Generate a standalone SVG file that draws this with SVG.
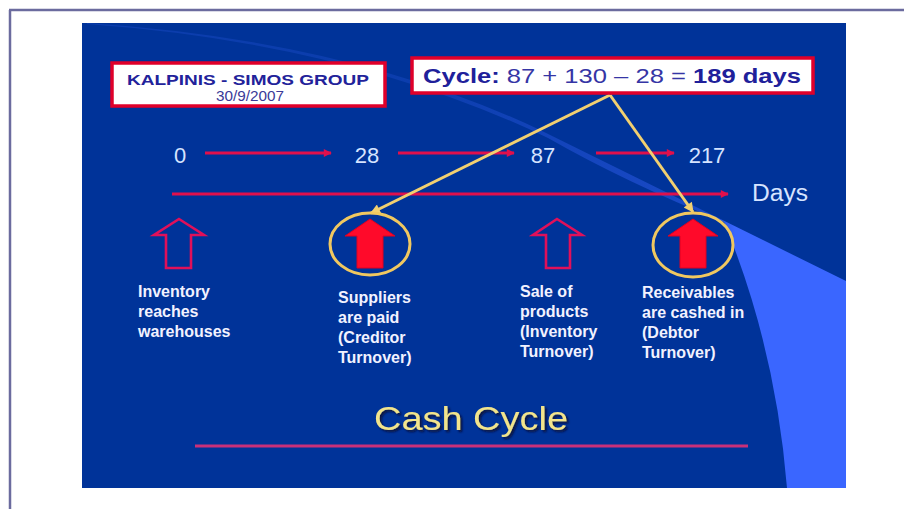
<svg xmlns="http://www.w3.org/2000/svg" width="904" height="509" viewBox="0 0 904 509">
<defs>
<style>
.num{font-family:"Liberation Sans",Arial,sans-serif;font-size:22px;fill:#d6e4ff;text-anchor:middle}
.lbl{font-family:"Liberation Sans",Arial,sans-serif;font-size:16px;font-weight:bold;fill:#f2f2ff}
.tl{stroke:#e0104c;stroke-width:3;fill:none}
.yl{stroke:#f2d070;stroke-width:3;fill:none}
.hollow{fill:#003399;stroke:#e0105a;stroke-width:2.6;stroke-linejoin:miter}
.solid{fill:#ff0a2a;stroke:#e00020;stroke-width:1}
.ring{fill:none;stroke:#f0c860;stroke-width:3}
.box{fill:#ffffff;stroke:#e0002a;stroke-width:3.5}
</style>
<marker id="ahr" viewBox="0 0 10 10" refX="9" refY="5" markerWidth="10" markerHeight="8" markerUnits="userSpaceOnUse" orient="auto">
<path d="M0,0 L10,5 L0,10 Z" fill="#e0104c"/>
</marker>
<marker id="ahy" viewBox="0 0 10 10" refX="9" refY="5" markerWidth="12" markerHeight="10" markerUnits="userSpaceOnUse" orient="auto">
<path d="M0,0 L10,5 L0,10 Z" fill="#f2d070"/>
</marker>
<linearGradient id="wedge" gradientUnits="userSpaceOnUse" x1="420" y1="0" x2="735" y2="0">
<stop offset="0" stop-color="#3a66ff" stop-opacity="0.2"/>
<stop offset="0.5" stop-color="#3a66ff" stop-opacity="0.35"/>
<stop offset="0.92" stop-color="#3a66ff" stop-opacity="0.45"/>
<stop offset="1" stop-color="#3a66ff" stop-opacity="1"/>
</linearGradient>
<filter id="sh" x="-10%" y="-20%" width="130%" height="150%">
<feDropShadow dx="2" dy="2" stdDeviation="0.8" flood-color="#101030" flood-opacity="0.9"/>
</filter>
</defs>

<rect x="0" y="0" width="904" height="509" fill="#ffffff"/>
<path d="M9,10 H904 M10,10 V509" stroke="#6b6b9e" stroke-width="2.5" fill="none"/>

<rect x="82" y="23" width="764" height="465" fill="#003399"/>
<path d="M87,23 Q350,40 540,130 L846,281 L846,488 L787,488 Q775.5,346 724,222 Q625,182 548,138 Q350,43 87,24 Z" fill="url(#wedge)"/>

<g id="connectors">
<line class="tl" x1="205" y1="153" x2="331" y2="153" marker-end="url(#ahr)"/>
<line class="tl" x1="398" y1="153" x2="514" y2="153" marker-end="url(#ahr)"/>
<line class="tl" x1="596" y1="153" x2="674" y2="153" marker-end="url(#ahr)"/>
<line class="tl" x1="172" y1="194" x2="728" y2="194" marker-end="url(#ahr)"/>
<line class="yl" x1="610" y1="95" x2="371" y2="213" marker-end="url(#ahy)"/>
<line class="yl" x1="610" y1="95" x2="693" y2="212" marker-end="url(#ahy)"/>
</g>

<g id="title-box">
<rect class="box" x="112" y="63" width="273" height="43"/>
<text x="248" y="85" text-anchor="middle" font-family="'Liberation Sans',Arial,sans-serif" font-size="15" font-weight="bold" fill="#22229a" textLength="242" lengthAdjust="spacingAndGlyphs">KALPINIS - SIMOS GROUP</text>
<text x="250" y="101" text-anchor="middle" font-family="'Liberation Sans',Arial,sans-serif" font-size="14" fill="#3a3a98" textLength="68" lengthAdjust="spacingAndGlyphs">30/9/2007</text>
</g>

<g id="cycle-box">
<rect class="box" x="412" y="58" width="401" height="35" stroke-width="4"/>
<text x="612" y="83" text-anchor="middle" font-family="'Liberation Sans',Arial,sans-serif" font-size="21" fill="#3535a5" textLength="378" lengthAdjust="spacingAndGlyphs"><tspan font-weight="bold" fill="#20209a">Cycle:</tspan> 87 + 130 – 28 = <tspan font-weight="bold" fill="#20209a">189 days</tspan></text>
</g>

<g id="day-0"><text class="num" x="180" y="163">0</text></g>
<g id="day-28"><text class="num" x="367" y="163">28</text></g>
<g id="day-87"><text class="num" x="543" y="163">87</text></g>
<g id="day-217"><text class="num" x="707" y="163">217</text></g>
<g id="days-label"><text x="752" y="201" font-family="'Liberation Sans',Arial,sans-serif" font-size="23" fill="#d6e4ff" textLength="56" lengthAdjust="spacingAndGlyphs">Days</text></g>

<g id="inventory-arrives">
<polygon class="hollow" points="179,219 204,235 191,235 191,268 166,268 166,235 154,235"/>
<text class="lbl" x="138" y="297">Inventory</text>
<text class="lbl" x="138" y="317">reaches</text>
<text class="lbl" x="138" y="337">warehouses</text>
</g>

<g id="suppliers-paid">
<polygon class="solid" points="370,219 395,236 383,236 383,268 357,268 357,236 345,236"/>
<ellipse class="ring" cx="370" cy="244" rx="40" ry="31"/>
<text class="lbl" x="338" y="303">Suppliers</text>
<text class="lbl" x="338" y="323">are paid</text>
<text class="lbl" x="338" y="343">(Creditor</text>
<text class="lbl" x="338" y="363">Turnover)</text>
</g>

<g id="sale-products">
<polygon class="hollow" points="557,219 582,235 570,235 570,268 546,268 546,235 533,235"/>
<text class="lbl" x="520" y="297">Sale of</text>
<text class="lbl" x="520" y="317">products</text>
<text class="lbl" x="520" y="337">(Inventory</text>
<text class="lbl" x="520" y="357">Turnover)</text>
</g>

<g id="receivables-cashed">
<polygon class="solid" points="693,219 718,236 706,236 706,268 680,268 680,236 668,236"/>
<ellipse class="ring" cx="693" cy="245" rx="40" ry="32"/>
<text class="lbl" x="642" y="298">Receivables</text>
<text class="lbl" x="642" y="318">are cashed in</text>
<text class="lbl" x="642" y="338">(Debtor</text>
<text class="lbl" x="642" y="358">Turnover)</text>
</g>

<g id="cash-cycle-title">
<text x="471" y="430" text-anchor="middle" font-family="'Liberation Sans',Arial,sans-serif" font-size="33" fill="#f2e48c" filter="url(#sh)" textLength="194" lengthAdjust="spacingAndGlyphs">Cash Cycle</text>
<line x1="195" y1="446" x2="748" y2="446" stroke="#c8307a" stroke-width="3"/>
</g>
</svg>
